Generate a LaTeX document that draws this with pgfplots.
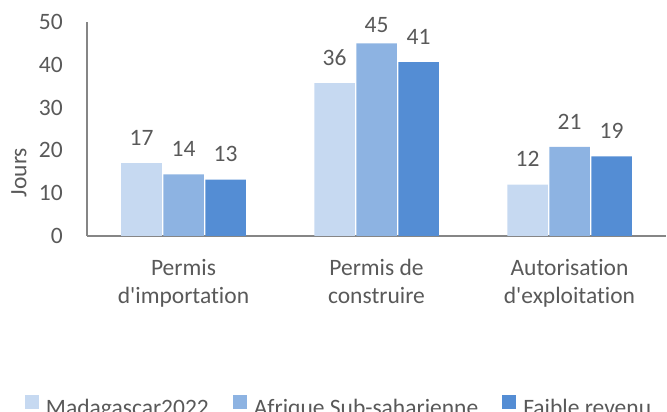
\documentclass[border=0pt]{standalone}
\usepackage{fontspec}
\setmainfont{Carlito}[Ligatures={TeX,NoCommon}]
\usepackage{pgfplots}
\pgfplotsset{compat=1.18}

\definecolor{c1}{HTML}{C6D9F1}
\definecolor{c2}{HTML}{8DB3E2}
\definecolor{c3}{HTML}{548DD4}
\definecolor{txt}{HTML}{595959}
\definecolor{axisgray}{HTML}{868686}

\begin{document}
\begin{tikzpicture}[font=\fontsize{23.5}{28}\selectfont]
\path[use as bounding box] (0,0) rectangle (667pt,412pt);
\clip (0,0) rectangle (667pt,412pt);
\begin{axis}[
    at={(87pt,176pt)}, anchor=south west,
    scale only axis,
    width=579pt, height=214pt,
    ybar, bar width=40.5pt,
    xmin=-0.5, xmax=2.5,
    ymin=0, ymax=50,
    xtick={0,1,2},
    xticklabels={{Permis\\d\textquotesingle importation},{Permis de\\construire},{Autorisation\\d\textquotesingle exploitation}},
    ytick={0,10,...,50},
    major tick length=0pt,
    axis x line*=bottom, axis y line*=left,
    axis line style={axisgray, line width=1.2pt, -},
    /pgf/number format/assume math mode=true,
    every tick label/.append style={text=txt},
    yticklabel style={inner sep=0pt, anchor=east, xshift=-24pt},
    xticklabel style={align=center, inner sep=0pt, anchor=north, yshift=-23pt},
    ylabel={Jours},
    ylabel style={at={(rel axis cs:-0.1174,0.2967)}, anchor=center, text=txt},
    visualization depends on={rawy \as \rawy},
    nodes near coords={\pgfmathprintnumber[fixed,precision=0]{\pgfplotspointmeta}},
    every node near coord/.append style={text=txt, inner sep=0pt,
        yshift={ifthenelse(\rawy>44,10.7,17.5)}},
    legend columns=3,
    legend image code/.code={\fill[#1] (0pt,-1pt) rectangle (14pt,13pt);},
    legend style={draw=none, fill=none, at={(-0.1071,-0.7453)}, anchor=north west,
        inner sep=0pt, outer sep=0pt, column sep=7pt,
        /tikz/every even column/.append style={column sep=24pt},
        nodes={inner sep=0pt, text=txt}},
]
\addplot[fill=c1, draw=none, bar shift=-42pt] coordinates {(0,17.05) (1,35.7) (2,12.0)};
\addlegendentry{Madagascar2022}
\addplot[fill=c2, draw=none, bar shift=0pt] coordinates {(0,14.4) (1,45.0) (2,20.8)};
\addlegendentry{Afrique Sub-saharienne}
\addplot[fill=c3, draw=none, bar shift=42pt] coordinates {(0,13.2) (1,40.6) (2,18.6)};
\addlegendentry{Faible revenu}
\end{axis}
\end{tikzpicture}
\end{document}
